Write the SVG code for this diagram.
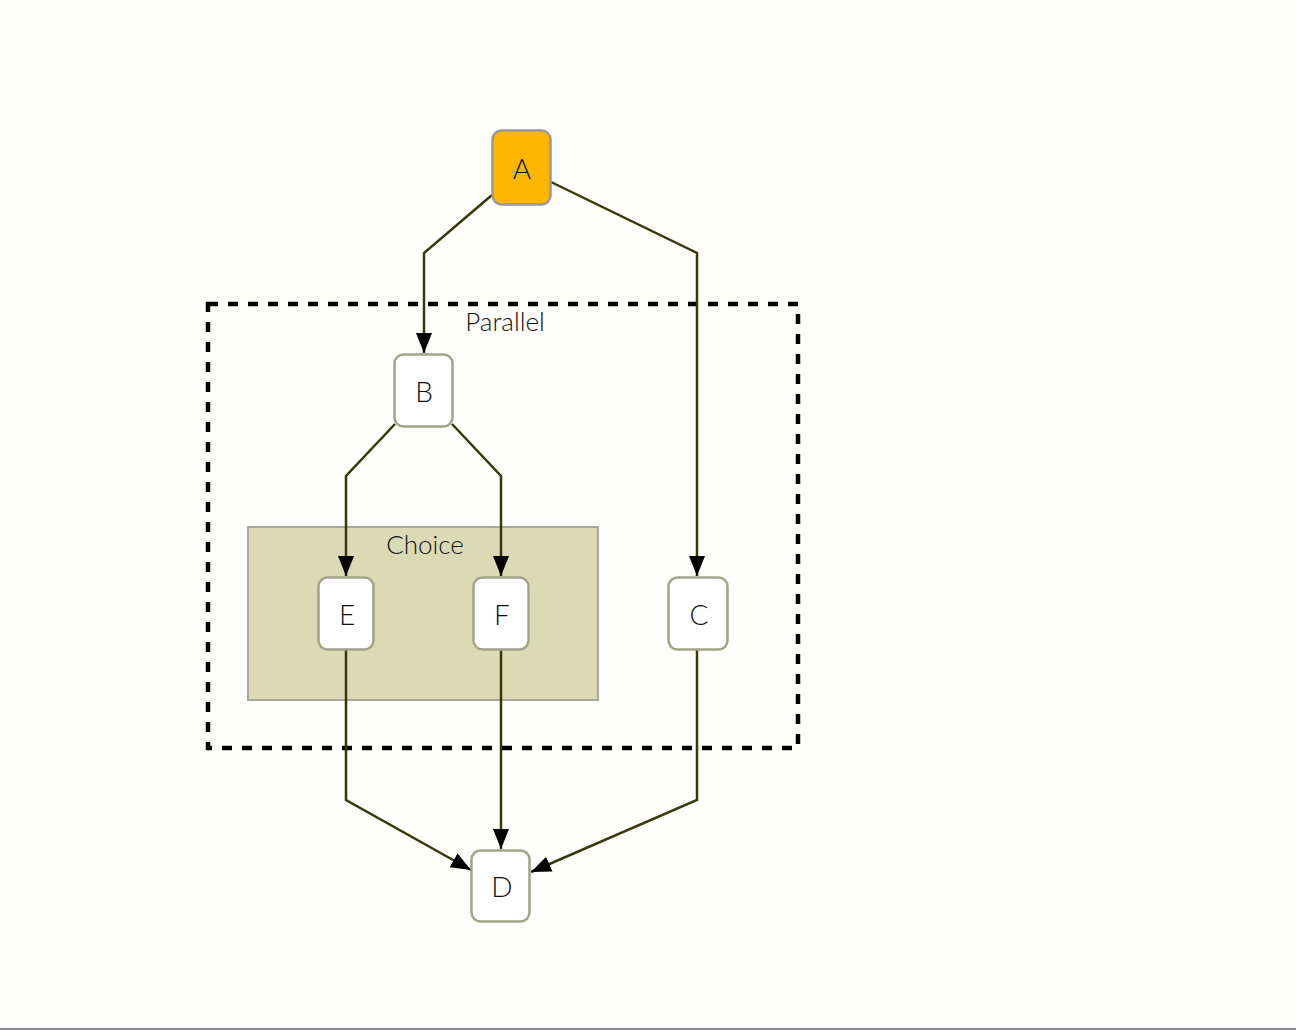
<svg xmlns="http://www.w3.org/2000/svg" width="1296" height="1030" viewBox="0 0 1296 1030">
<style>
.node rect{fill:#ffffff;stroke:#a3a38a;stroke-width:2.5}
.node text{font-family:"Lato","Liberation Sans",Arial,sans-serif;font-size:28px;fill:#111;text-anchor:middle;font-weight:300}
.lbl{font-family:"Lato","Liberation Sans",Arial,sans-serif;font-size:26px;fill:#111;text-anchor:middle;font-weight:300}
.edge{fill:none;stroke:#38380a;stroke-width:2.5;marker-end:url(#arr)}
</style>
<defs>
<marker id="arr" viewBox="0 0 10 10" refX="10" refY="5" markerWidth="20" markerHeight="20" markerUnits="userSpaceOnUse" orient="auto">
<path d="M0,1 L10,5 L0,9 z" fill="#000"/>
</marker>
</defs>
<rect x="0" y="0" width="1296" height="1030" fill="#fefefa"/>
<line x1="0" y1="1029" x2="1296" y2="1029" stroke="#8a8a9a" stroke-width="2"/>
<g id="choice">
<rect x="248" y="527" width="350" height="173" fill="#dadab4" stroke="#a8a89a" stroke-width="2"/>
<text class="lbl" x="425" y="554">Choice</text>
</g>
<g id="parallel">
<rect x="208" y="304" width="590" height="444" fill="none" stroke="#000" stroke-width="4.5" stroke-dasharray="10,10"/>
<text class="lbl" x="505" y="331">Parallel</text>
</g>
<g id="connectors">
<path class="edge" d="M492,195 L424,253 L424,353"/>
<path class="edge" d="M551,182 L697,253 L697,576"/>
<path class="edge" d="M395,424 L346,476 L346,576"/>
<path class="edge" d="M452,424 L501,476 L501,576"/>
<path class="edge" d="M346,650 L346,800 L471,870"/>
<path class="edge" d="M501,650 L501,849"/>
<path class="edge" d="M697,650 L697,800 L531,872"/>
</g>
<g id="A" class="node">
<rect x="492.5" y="130.5" width="58" height="74" rx="9" style="fill:#ffb600;stroke:#999"/>
<text x="522" y="179">A</text>
</g>
<g id="B" class="node">
<rect x="394.5" y="354.5" width="58" height="72" rx="9"/>
<text x="424" y="402">B</text>
</g>
<g id="E" class="node">
<rect x="318.5" y="577.5" width="55" height="72" rx="9"/>
<text x="347" y="625">E</text>
</g>
<g id="F" class="node">
<rect x="473.5" y="577.5" width="55" height="72" rx="9"/>
<text x="502" y="625">F</text>
</g>
<g id="C" class="node">
<rect x="668.5" y="577.5" width="59" height="72" rx="9"/>
<text x="699" y="625">C</text>
</g>
<g id="D" class="node">
<rect x="471.5" y="850.5" width="58" height="71" rx="9"/>
<text x="502" y="897">D</text>
</g>
</svg>
